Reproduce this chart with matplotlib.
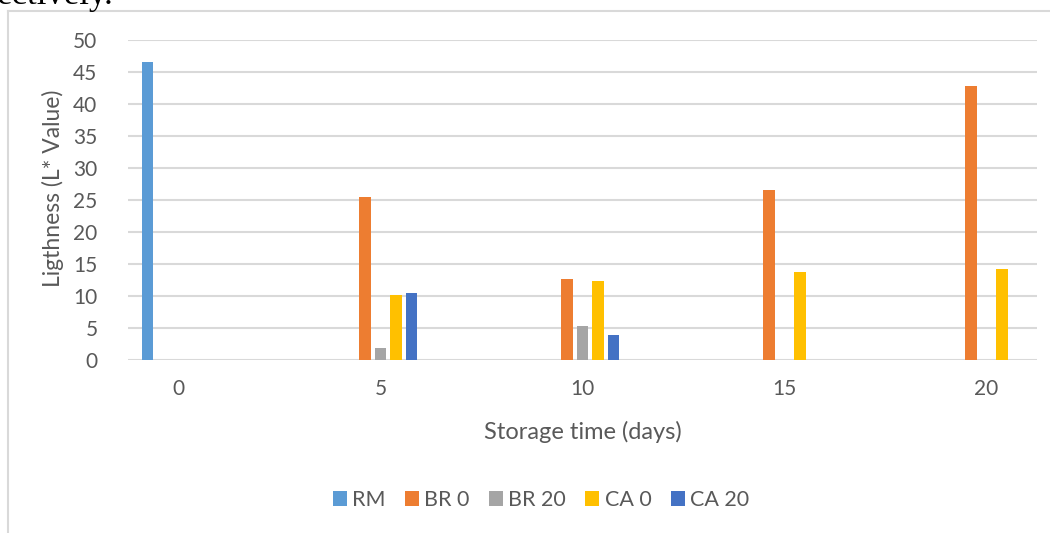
import numpy as np
import matplotlib
matplotlib.use("Agg")
import matplotlib.pyplot as plt

days = ["0", "5", "10", "15", "20"]
series = ["RM", "BR 0", "BR 20", "CA 0", "CA 20"]
rm = [46.5, np.nan, np.nan, np.nan, np.nan]
br0 = [np.nan, 25.5, 12.7, 26.5, 42.8]
br20 = [np.nan, 1.8, 5.3, np.nan, np.nan]
ca0 = [np.nan, 10.1, 12.3, 13.75, 14.2]
ca20 = [np.nan, 10.4, 3.9, np.nan, np.nan]
colors = ["#5B9BD5", "#ED7D31", "#A5A5A5", "#FFC000", "#4472C4"]

plt.rcParams["font.family"] = ["Lato", "DejaVu Sans"]
fig = plt.figure(figsize=(10.5, 5.33), dpi=100)
ax = fig.add_axes([128/1050, 1-360/533, (1037-128)/1050, 320/533])

x = np.arange(len(days))
slot = 0.077
bw = 0.058
for i, (name, vals) in enumerate(zip(series, [rm, br0, br20, ca0, ca20])):
    ax.bar(x + (i-2)*slot, vals, width=bw, color=colors[i], label=name, zorder=3)

ax.set_xlim(-0.25, 4.25)
ax.set_ylim(0, 50)
ax.set_yticks(range(0, 51, 5))
ax.set_xticks(x)
ax.set_xticklabels(days)
ax.grid(axis="y", color="#d9d9d9", linewidth=1.5, zorder=0)
ax.set_axisbelow(True)
for s in ax.spines.values():
    s.set_visible(False)
ax.tick_params(length=0, labelsize=15, labelcolor="#595959")
ax.tick_params(axis="x", pad=14)
ax.tick_params(axis="y", pad=22)
ax.set_xlabel("Storage time (days)", fontsize=17, color="#595959", va="center")
ax.set_ylabel("Ligthness (L* Value)", fontsize=16.5, color="#595959", va="center")
ax.xaxis.set_label_coords(0.5, (360-432)/320)
ax.yaxis.set_label_coords((53-128)/909, (360-188)/320)

fig.legend(loc="center", bbox_to_anchor=(541/1050, 1-500/533), ncol=5, frameon=False,
           fontsize=15.5, labelcolor="#595959", handlelength=0.65, handleheight=0.65,
           handletextpad=0.25, columnspacing=0.9)

# chart border (light grey) and cut-off document text above
fig.add_artist(plt.Line2D([8/1050, 8/1050], [0, 1-11/533], color="#d9d9d9", lw=1.5,
                          transform=fig.transFigure))
fig.add_artist(plt.Line2D([8/1050, 1], [1-11/533, 1-11/533], color="#d9d9d9", lw=1.5,
                          transform=fig.transFigure))
fig.text(-3/1050, 1-4/533, "ectively.", fontsize=25, family="Liberation Serif",
         va="baseline", ha="left", color="black")

fig.savefig("out.png", dpi=100)
